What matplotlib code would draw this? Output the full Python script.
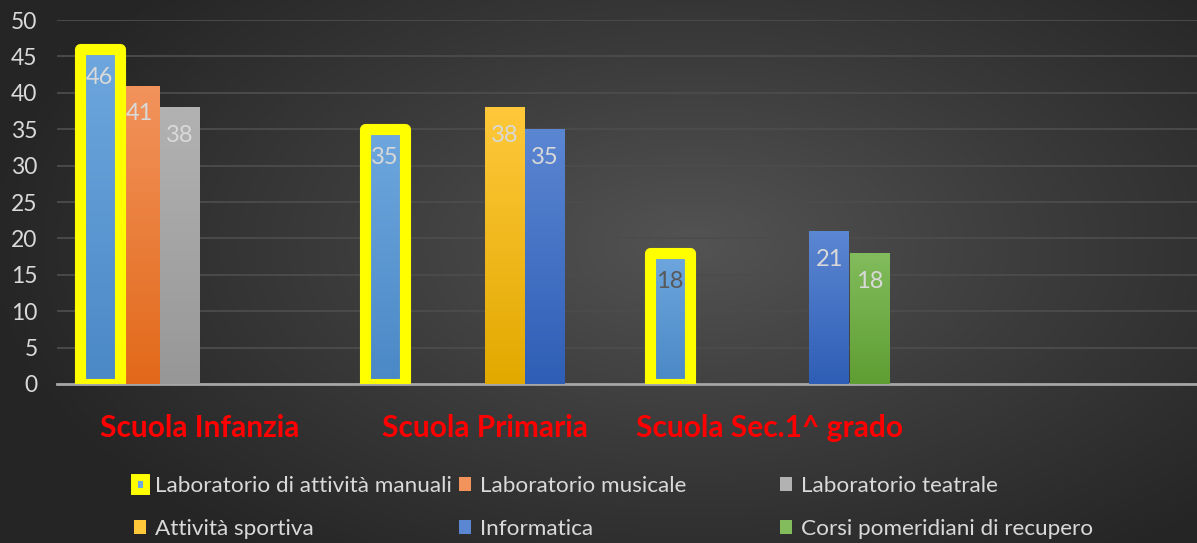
import numpy as np
import matplotlib.pyplot as plt
from matplotlib.patches import Patch
from matplotlib.colors import LinearSegmentedColormap

plt.rcParams['font.family'] = ['Lato', 'DejaVu Sans']

categorie = ['Scuola Infanzia', 'Scuola Primaria', 'Scuola Sec.1^ grado', '']
serie = ['Laboratorio di attività manuali', 'Laboratorio musicale', 'Laboratorio teatrale',
         'Attività sportiva', 'Informatica', 'Corsi pomeridiani di recupero']
manuali = [46, 35, 18, 0]
musicale = [41, 0, 0, 0]
teatrale = [38, 0, 0, 0]
sportiva = [0, 38, 0, 0]
informatica = [0, 35, 21, 0]
recupero = [0, 0, 18, 0]
valori = [manuali, musicale, teatrale, sportiva, informatica, recupero]

# colore alto / basso per il gradiente delle barre
colori = [('#6ea7de', '#4a88c6'), ('#f2935c', '#e2691a'), ('#b2b2b2', '#979797'),
          ('#ffc83a', '#e2a900'), ('#5b86d2', '#2f5eb6'), ('#82bc5c', '#5f9e33')]

fig = plt.figure(figsize=(11.97, 5.43), dpi=100)

# sfondo con gradiente radiale
bg = fig.add_axes([0, 0, 1, 1], zorder=-10)
yy, xx = np.mgrid[0:1:300j, 0:1:600j]
r = np.sqrt(((xx - 0.58) / 0.75) ** 2 + ((yy - 0.45) / 0.9) ** 2)
bgcmap = LinearSegmentedColormap.from_list('bg', ['#535353', '#3b3b3b', '#252525'])
bg.imshow(r, cmap=bgcmap, aspect='auto', extent=[0, 1, 0, 1], vmin=0, vmax=0.8)
bg.axis('off')

ax = fig.add_axes([57 / 1197, 159 / 543, 1 - 57 / 1197, 364 / 543])
ax.patch.set_alpha(0)

x = np.arange(len(categorie))
w = 40 / 285
for i, (vals, (ctop, cbot)) in enumerate(zip(valori, colori)):
    cmap = LinearSegmentedColormap.from_list('c%d' % i, [cbot, ctop])
    for j, v in enumerate(vals):
        if v == 0:
            continue
        xc = x[j] + (i - 2.5) * w
        bar = ax.bar(xc, v, w, color=ctop, linewidth=0, zorder=3)[0]
        grad = np.linspace(0, 1, 100).reshape(-1, 1)
        im = ax.imshow(grad, cmap=cmap, origin='lower', aspect='auto',
                       extent=[xc - w / 2, xc + w / 2, 0, v], zorder=3.5)
        im.set_clip_path(bar)
        if i == 0:
            ax.bar(xc, v, w, fill=False, edgecolor='#ffff00', linewidth=8,
                   joinstyle='round', zorder=4)
        col = '#595959' if (i == 0 and j == 2) else '#d9d9d9'
        ax.text(xc, v - 3.9, str(v), ha='center', va='center', fontsize=17, color=col, zorder=5)

ax.set_xlim(-0.5, 3.5)
ax.set_ylim(0, 50)
ax.set_yticks(range(0, 51, 5))
ax.yaxis.grid(True, color='#4c4c4c', linewidth=1.3, zorder=0)
ax.set_axisbelow(True)
for s in ['top', 'right', 'left']:
    ax.spines[s].set_visible(False)
ax.spines['bottom'].set_color('#a6a6a6')
ax.spines['bottom'].set_linewidth(2)
ax.spines['bottom'].set_zorder(2)
ax.tick_params(axis='y', length=0, labelsize=16.5, labelcolor='#d9d9d9', pad=14)
ax.set_xticks(x)
ax.set_xticklabels(categorie, fontsize=21.5, fontweight='bold', color='#ff0000')
ax.tick_params(axis='x', length=0, pad=21.5)

# legenda su tre colonne a larghezza fissa
handles = [Patch(facecolor=c[0], edgecolor='none') for c in colori]
handles[0] = Patch(facecolor=colori[0][0], edgecolor='#ffff00', linewidth=5, joinstyle='round')
colonne = [(0, 3), (1, 4), (2, 5)]
xpos = [134 / 1197, 459 / 1197, 780 / 1197]
for (a, b), xp in zip(colonne, xpos):
    fig.legend([handles[a], handles[b]], [serie[a], serie[b]], loc='upper left',
               bbox_to_anchor=(xp, 1 - 476 / 543), frameon=False, fontsize=16.2,
               labelcolor='#d9d9d9', handlelength=0.55, handleheight=0.55,
               handletextpad=0.4, labelspacing=1.02, borderpad=0, borderaxespad=0)

fig.savefig('out.png', dpi=100)
